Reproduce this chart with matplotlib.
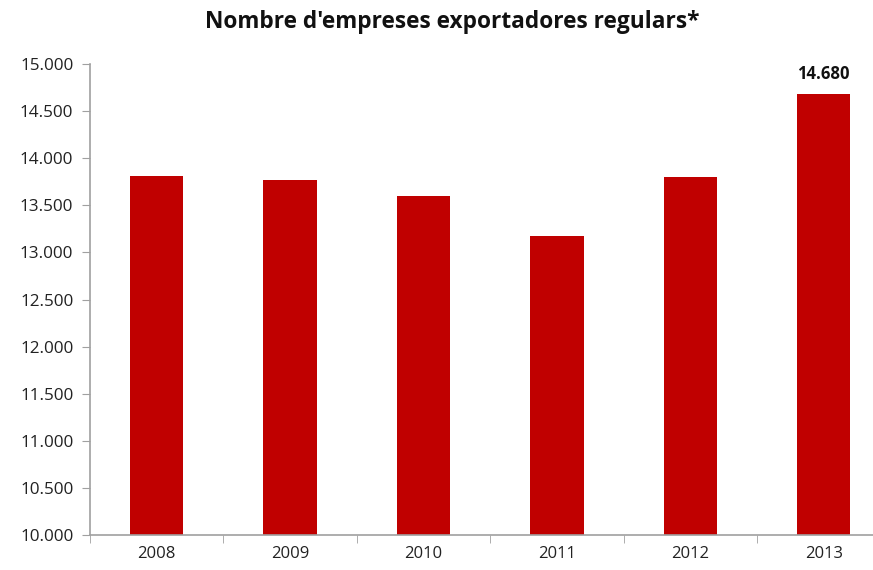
import matplotlib
matplotlib.use("Agg")
import matplotlib.pyplot as plt
from matplotlib.ticker import FuncFormatter, FixedLocator

years = ["2008", "2009", "2010", "2011", "2012", "2013"]
values = [13810, 13770, 13600, 13170, 13800, 14680]
ytick_values = list(range(10000, 15001, 500))

plt.rcParams['font.family'] = ['Open Sans', 'DejaVu Sans']

fig = plt.figure(figsize=(8.73, 5.70), dpi=100)
ax = fig.add_axes([90/873, 1-535/570, 800.4/873, 471/570])

x = list(range(len(years)))
ax.bar(x, values, width=0.4, color="#C00000", zorder=2)
ax.set_xlim(-0.5, len(years) - 0.5)
ax.set_ylim(10000, 15000)
ax.set_yticks(ytick_values)
ax.yaxis.set_major_formatter(FuncFormatter(lambda v, p: f"{int(v):,}".replace(",", ".")))
ax.set_xticks(x)
ax.set_xticklabels(years)
ax.xaxis.set_minor_locator(FixedLocator([i + 0.5 for i in range(-1, len(years))]))
ax.tick_params(axis='x', which='major', length=0, pad=8, labelsize=12, colors='#222222')
ax.tick_params(axis='x', which='minor', length=6, color='#A0A0A0', direction='out')
ax.tick_params(axis='y', length=6, color='#A0A0A0', labelsize=12.3, colors='#222222', pad=6)
for lab in ax.get_yticklabels() + ax.get_xticklabels():
    lab.set_color('#222222')
for s in ['top', 'right']:
    ax.spines[s].set_visible(False)
for s in ['left', 'bottom']:
    ax.spines[s].set_color('#A0A0A0')
    ax.spines[s].set_linewidth(1.2)

ax.annotate(f"{values[-1]:,}".replace(",", "."), (x[-1], values[-1]),
            xytext=(0, 8), textcoords='offset points', ha='center', va='bottom',
            fontsize=12, fontweight='bold', color='#111111')

fig.text(452/873, 1-22/570, "Nombre d'empreses exportadores regulars*", ha='center', va='center',
         fontsize=16.3, fontweight='bold', color='#111111')

fig.savefig("out.png", dpi=100)
